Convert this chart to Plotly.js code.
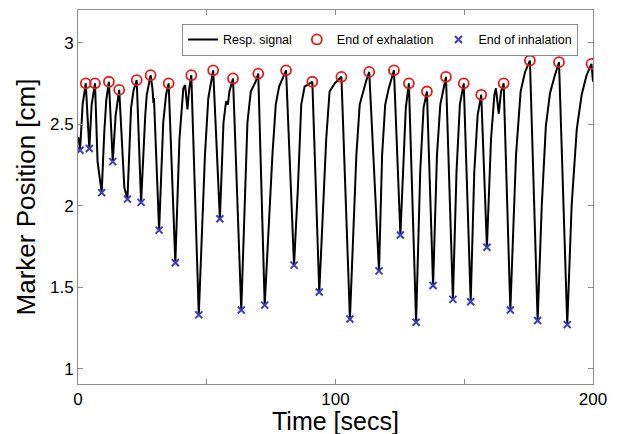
<!DOCTYPE html>
<html>
<head>
<meta charset="utf-8">
<script src="https://cdn.plot.ly/plotly-3.0.1.min.js"></script>
<style>html,body{margin:0;padding:0;background:#fff}#chart{width:622px;height:434px}</style>
</head>
<body>
<div id="chart"></div>
<script>
// Respiratory signal (time in secs, marker position in cm)
const signalT = [0.0,0.3,0.8,1.8,3.0,4.4,5.3,6.6,7.6,8.5,9.2,10.2,11.0,12.0,13.5,14.6,16.0,18.0,19.2,20.6,21.6,22.8,24.5,26.1,26.7,28.2,28.9,29.3,29.5,31.5,33.1,34.2,35.2,37.8,39.4,40.9,41.6,42.5,43.2,44.0,46.9,49.3,50.6,51.5,52.5,55.1,56.5,57.5,58.2,58.8,59.5,60.2,63.4,65.8,67.1,69.0,70.0,72.5,75.5,76.8,78.1,79.7,80.8,83.9,85.4,86.7,88.0,91.0,93.7,96.4,97.7,99.7,102.3,105.6,108.1,109.4,110.7,112.0,113.1,116.9,118.1,119.3,120.7,122.7,125.2,126.4,127.3,128.5,131.3,132.9,134.2,135.5,137.9,139.4,140.7,142.0,142.9,145.6,147.0,148.3,149.8,152.5,153.9,155.2,156.6,158.8,160.4,161.7,162.3,163.4,164.3,165.3,167.9,170.1,171.4,171.9,173.6,175.5,178.5,180.1,181.7,183.3,185.2,186.8,190.0,191.7,193.7,195.6,197.5,199.4,200.0];
const signalV = [2.42,2.41,2.34,2.62,2.75,2.35,2.62,2.75,2.27,2.15,2.08,2.45,2.65,2.76,2.27,2.55,2.71,2.11,2.04,2.60,2.71,2.77,2.02,2.55,2.68,2.80,2.72,2.63,2.66,1.85,2.51,2.68,2.75,1.65,2.41,2.72,2.74,2.59,2.72,2.80,1.33,2.31,2.66,2.74,2.83,1.92,2.51,2.64,2.62,2.70,2.74,2.78,1.36,2.51,2.70,2.76,2.81,1.39,2.31,2.62,2.73,2.79,2.83,1.635,2.11,2.62,2.73,2.76,1.47,2.41,2.70,2.75,2.79,1.305,2.31,2.62,2.70,2.77,2.82,1.60,2.31,2.62,2.72,2.83,1.82,2.31,2.60,2.75,1.285,2.21,2.60,2.70,1.51,2.31,2.62,2.72,2.79,1.425,2.21,2.62,2.75,1.41,2.21,2.555,2.68,1.745,2.41,2.68,2.72,2.565,2.70,2.75,1.36,2.31,2.62,2.70,2.82,2.89,1.295,2.00,2.49,2.69,2.80,2.88,1.27,2.00,2.47,2.68,2.80,2.87,2.76];

// End of exhalation (peaks)
const exhT = [3.0,6.6,12.0,16.0,22.8,28.2,35.2,44.0,52.5,60.2,70.0,80.8,91.0,102.3,113.1,122.7,128.5,135.5,142.9,149.8,156.6,165.3,175.5,186.8,199.4];
const exhV = [2.75,2.75,2.76,2.71,2.77,2.80,2.75,2.80,2.83,2.78,2.81,2.83,2.76,2.79,2.82,2.83,2.75,2.70,2.79,2.75,2.68,2.75,2.89,2.88,2.87];

// End of inhalation (troughs)
const inhT = [0.8,4.4,9.2,13.5,19.2,24.5,31.5,37.8,46.9,55.1,63.4,72.5,83.9,93.7,105.6,116.9,125.2,131.3,137.9,145.6,152.5,158.8,167.9,178.5,190.0];
const inhV = [2.34,2.35,2.08,2.27,2.04,2.02,1.85,1.65,1.33,1.92,1.36,1.39,1.635,1.47,1.305,1.60,1.82,1.285,1.51,1.425,1.41,1.745,1.36,1.295,1.27];

const xTickVals = [0,50,100,150,200];
const xTickText = ['0','','100','','200'];
const yTickVals = [1,1.5,2,2.5,3];
const yTickText = ['1','1.5','2','2.5','3'];

const FONT = 'Liberation Sans, Arial, sans-serif';

const traces = [
  {x: signalT, y: signalV, mode: 'lines', name: 'Resp. signal',
   line: {color: '#000000', width: 2}},
  {x: exhT, y: exhV, mode: 'markers', name: 'End of exhalation',
   marker: {symbol: 'circle-open', size: 10, color: '#e41a1c', line: {width: 1.8, color: '#e41a1c'}}},
  {x: inhT, y: inhV, mode: 'markers', name: 'End of inhalation',
   marker: {symbol: 'x-thin-open', size: 7, color: '#3b3bc4', line: {width: 2, color: '#3b3bc4'}}}
];

const axisCommon = {
  showgrid: false, zeroline: false, showline: true, mirror: 'ticks',
  linecolor: '#8c8c8c', linewidth: 1, ticks: 'inside', ticklen: 5,
  tickcolor: '#8c8c8c', tickwidth: 1,
  tickfont: {family: FONT, size: 17, color: '#000'}
};

const layout = {
  width: 622, height: 434,
  margin: {l: 78, r: 29, t: 10, b: 50},
  paper_bgcolor: '#ffffff', plot_bgcolor: '#ffffff',
  showlegend: true,
  legend: {orientation: 'h', x: 0.971, y: 0.963, xanchor: 'right', yanchor: 'top',
    bgcolor: '#ffffff', bordercolor: '#8c8c8c', borderwidth: 1,
    font: {family: FONT, size: 12.5, color: '#000'}, itemwidth: 30, tracegroupgap: 0},
  xaxis: Object.assign({}, axisCommon, {
    range: [0, 200], tickmode: 'array', tickvals: xTickVals, ticktext: xTickText,
    ticklabelstandoff: 0
  }),
  yaxis: Object.assign({}, axisCommon, {
    range: [0.906, 3.2], tickmode: 'array', tickvals: yTickVals, ticktext: yTickText,
    title: {text: 'Marker Position [cm]', font: {family: FONT, size: 26, color: '#000'}, standoff: 6}
  }),
  annotations: [{
    text: 'Time [secs]', xref: 'paper', yref: 'paper', x: 0.5, y: 0,
    xanchor: 'center', yanchor: 'top', yshift: -21, showarrow: false,
    font: {family: FONT, size: 25, color: '#000'}
  }]
};

Plotly.newPlot('chart', traces, layout, {displayModeBar: false, staticPlot: true});
</script>
</body>
</html>
